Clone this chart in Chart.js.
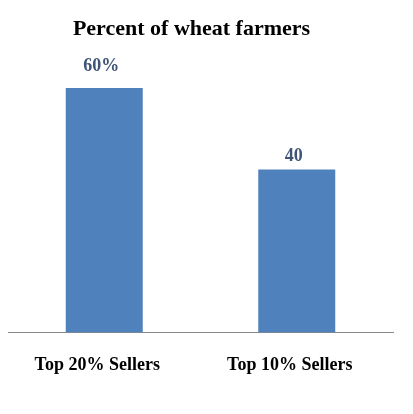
<!DOCTYPE html>
<html>
<head>
<meta charset="utf-8">
<script src="https://cdn.jsdelivr.net/npm/chart.js@4/dist/chart.umd.min.js"></script>
<style>
  html, body { margin: 0; padding: 0; background: #fff; }
  #wrap { width: 413px; height: 414px; }
</style>
</head>
<body>
<div id="wrap"><canvas id="c"></canvas></div>
<script>
// data
const categories = ["Top 20% Sellers", "Top 10% Sellers"];
const values = [60, 40];
const valueLabels = ["60%", "40"];

const serif = "'Liberation Serif', 'Times New Roman', serif";

// draws the numbers above each bar, and nudges the title a bit left
const barLabels = {
    id: "barLabels",
    afterLayout(chart, args, opts) {
        if (chart.titleBlock) {
            chart.titleBlock.right -= opts.titleShift;
        }
    },
    afterDatasetsDraw(chart, args, opts) {
        const ctx = chart.ctx;
        const meta = chart.getDatasetMeta(0);
        ctx.save();
        ctx.font = "bold 18px " + serif;
        ctx.fillStyle = "#3F5476";
        ctx.textAlign = "center";
        ctx.textBaseline = "middle";
        meta.data.forEach(function (bar, i) {
            ctx.fillText(valueLabels[i], bar.x - 3, bar.y - opts.offsets[i]);
        });
        ctx.restore();
    }
};

new Chart(document.getElementById("c"), {
    type: "bar",
    data: {
        labels: categories,
        datasets: [{
            data: values,
            backgroundColor: "#4F81BD",
            barPercentage: 0.4,
            categoryPercentage: 1.0
        }]
    },
    options: {
        responsive: true,
        maintainAspectRatio: false,
        animation: false,
        layout: { padding: { left: 8, right: 20, top: 0, bottom: 24 } },
        plugins: {
            legend: { display: false },
            tooltip: { enabled: false },
            title: {
                display: true,
                text: "Percent of wheat farmers",
                color: "#000",
                font: { family: serif, size: 22, weight: "bold" },
                padding: { top: 16, bottom: 5 }
            },
            barLabels: { offsets: [22, 13], titleShift: 18 }
        },
        scales: {
            x: {
                grid: { display: false },
                border: { display: true, color: "#888", width: 1 },
                ticks: {
                    color: "#000",
                    padding: 14,
                    labelOffset: -7,
                    font: { family: serif, size: 18, weight: "bold" }
                }
            },
            y: {
                display: false,
                min: 0,
                max: 70
            }
        }
    },
    plugins: [barLabels]
});
</script>
</body>
</html>
